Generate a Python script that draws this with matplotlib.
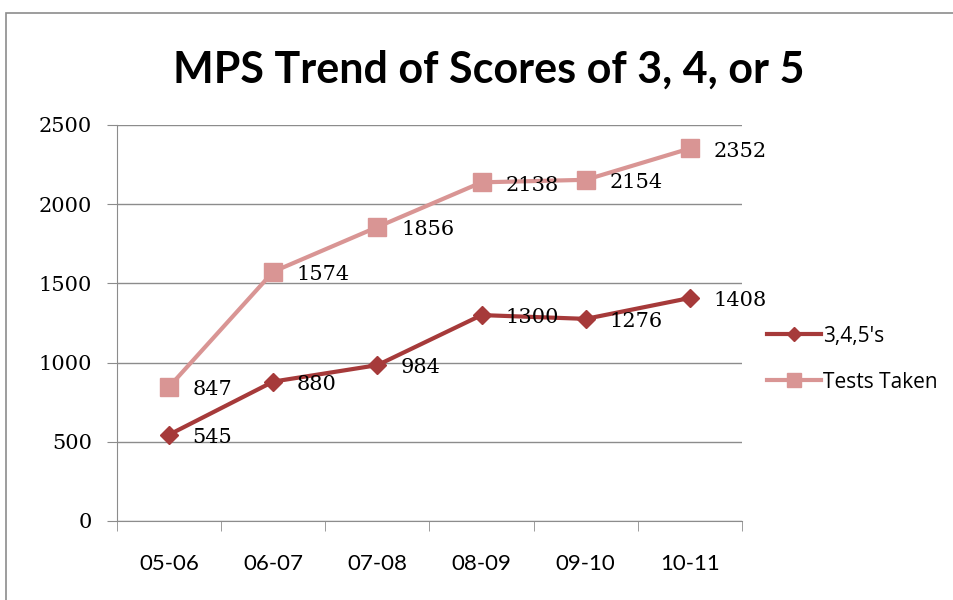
import matplotlib.pyplot as plt
from matplotlib.patches import Rectangle

# data
years = ["05-06", "06-07", "07-08", "08-09", "09-10", "10-11"]
scores_345 = [545, 880, 984, 1300, 1276, 1408]
tests_taken = [847, 1574, 1856, 2138, 2154, 2352]

dark_red = "#A63A3A"
pink = "#D99594"
serif = ["DejaVu Serif"]
sans = ["Lato", "DejaVu Sans"]

fig = plt.figure(figsize=(9.54, 6), dpi=100)
ax = fig.add_axes([117 / 954, 1 - 521 / 600, 625 / 954, 396 / 600])

# outer chart border
fig.patches.append(Rectangle((6 / 954, -0.1), 1.2, 1 - 13 / 600 + 0.1,
                             transform=fig.transFigure, fill=False,
                             edgecolor="#8c8c8c", linewidth=1.2))

x = list(range(len(years)))
ax.plot(x, tests_taken, color=pink, lw=3, marker="s", ms=13,
        label="Tests Taken", zorder=3)
ax.plot(x, scores_345, color=dark_red, lw=3, marker="D", ms=9,
        label="3,4,5's", zorder=4)

for xi, v in zip(x, tests_taken):
    ax.annotate(str(v), (xi, v), xytext=(17, -2), textcoords="offset points",
                ha="left", va="center", fontsize=15, family=serif, zorder=5)
for xi, v in zip(x, scores_345):
    ax.annotate(str(v), (xi, v), xytext=(17, -2), textcoords="offset points",
                ha="left", va="center", fontsize=15, family=serif, zorder=5)

ax.set_xlim(-0.5, 5.5)
ax.set_ylim(0, 2500)
ax.set_yticks(range(0, 2501, 500))
ax.yaxis.grid(True, color="#8c8c8c", lw=1)
ax.set_axisbelow(True)

ax.set_xticks(x)
ax.set_xticklabels(years, fontsize=16, family=sans)
ax.set_xticks([i - 0.5 for i in range(len(years) + 1)], minor=True)
ax.tick_params(axis="x", which="major", length=0, pad=24)
ax.tick_params(axis="x", which="minor", length=7, color="#8c8c8c")
ax.tick_params(axis="y", length=7, color="#8c8c8c", pad=11)
for lbl in ax.get_yticklabels():
    lbl.set_family(serif)
    lbl.set_fontsize(15)

for side in ["top", "right"]:
    ax.spines[side].set_visible(False)
for side in ["left", "bottom"]:
    ax.spines[side].set_color("#8c8c8c")

fig.text(489 / 954, 1 - 70 / 600, "MPS Trend of Scores of 3, 4, or 5",
         ha="center", va="center", fontsize=31, fontweight="bold", family=sans)

handles, labels = ax.get_legend_handles_labels()
fig.legend(handles[::-1], labels[::-1], loc="center left",
           bbox_to_anchor=(748 / 954, 1 - 359 / 600), frameon=False,
           prop={"family": ["Open Sans", "DejaVu Sans"], "size": 15},
           handlelength=2.6, handletextpad=0.1, labelspacing=1.2,
           markerscale=0.75)

fig.savefig("out.png", dpi=100)
